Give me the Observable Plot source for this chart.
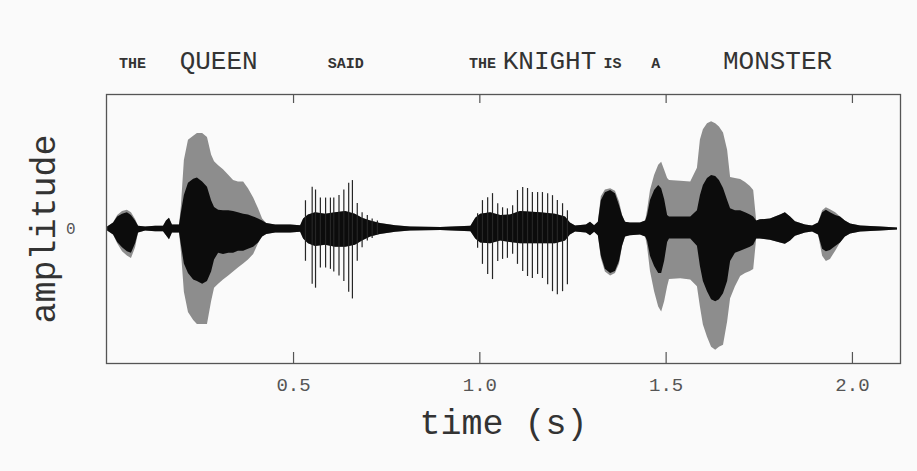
<!DOCTYPE html>
<html><head><meta charset="utf-8">
<script src="https://cdn.jsdelivr.net/npm/d3@7"></script>
<script src="https://cdn.jsdelivr.net/npm/@observablehq/plot@0.6"></script>
<style>
html,body{margin:0;padding:0;background:#fafafa;}
#chart{width:917px;height:471px;overflow:hidden}
</style></head><body><div id="chart"></div>
<script>
// Words of the sentence and their positions in time (s)
const words = ["THE","QUEEN","SAID","THE","KNIGHT","IS","A","MONSTER"];
const wordTimes = [0.068,0.299,0.640,1.007,1.187,1.356,1.472,1.799];
const wordStressed = [false,true,false,false,true,false,false,true];

const xTicks = [0.5,1.0,1.5,2.0];
const yTicks = [0];

// Envelope of the waveform (time s, amplitude relative units)
const envTime = [0.001,0.017,0.028,0.041,0.054,0.065,0.076,0.084,0.103,0.130,
 0.151,0.159,0.167,0.175,0.194,0.199,0.207,0.218,0.232,0.242,
 0.256,0.269,0.280,0.288,0.299,0.312,0.326,0.339,0.352,0.366,
 0.379,0.393,0.406,0.417,0.428,0.452,0.492,0.519,0.527,0.540,
 0.559,0.586,0.613,0.640,0.666,0.685,0.707,0.733,0.774,0.814,
 0.895,0.976,0.989,1.002,1.029,1.056,1.082,1.109,1.163,1.203,
 1.230,1.243,1.257,1.286,1.297,1.308,1.318,1.326,1.337,1.351,
 1.364,1.375,1.383,1.391,1.404,1.431,1.445,1.450,1.458,1.469,
 1.480,1.488,1.496,1.504,1.509,1.539,1.566,1.584,1.592,1.600,
 1.611,1.622,1.633,1.643,1.654,1.665,1.673,1.686,1.700,1.713,
 1.726,1.735,1.743,1.753,1.780,1.807,1.820,1.834,1.847,1.874,
 1.893,1.909,1.920,1.930,1.941,1.955,1.968,1.981,1.995,2.022,
 2.076,2.121];
// dense (black) core
const blackTop = [0.015,0.045,0.09,0.11,0.12,0.10,0.06,0.02,0.015,0.02,
 0.02,0.06,0.08,0.03,0.03,0.12,0.25,0.34,0.37,0.38,
 0.35,0.31,0.21,0.16,0.14,0.135,0.135,0.13,0.12,0.11,
 0.105,0.09,0.075,0.06,0.04,0.03,0.03,0.025,0.075,0.105,
 0.12,0.11,0.12,0.13,0.11,0.08,0.06,0.04,0.025,0.015,
 0.012,0.02,0.08,0.11,0.12,0.10,0.105,0.13,0.12,0.11,
 0.09,0.045,0.023,0.03,0.05,0.025,0.05,0.21,0.27,0.286,
 0.263,0.173,0.098,0.05,0.045,0.045,0.06,0.098,0.211,0.286,
 0.323,0.30,0.22,0.10,0.09,0.09,0.09,0.135,0.248,0.323,
 0.376,0.398,0.391,0.361,0.301,0.211,0.15,0.135,0.135,0.12,
 0.105,0.09,0.06,0.068,0.075,0.105,0.12,0.09,0.053,0.03,
 0.023,0.045,0.12,0.14,0.12,0.10,0.09,0.06,0.038,0.023,
 0.015,0.008];
const blackBot = [-0.015,-0.045,-0.10,-0.14,-0.17,-0.18,-0.11,-0.03,-0.015,-0.02,
 -0.02,-0.05,-0.08,-0.03,-0.03,-0.12,-0.26,-0.33,-0.38,-0.39,
 -0.41,-0.39,-0.32,-0.23,-0.18,-0.19,-0.18,-0.18,-0.165,-0.165,
 -0.15,-0.135,-0.105,-0.06,-0.04,-0.03,-0.03,-0.025,-0.075,-0.11,
 -0.13,-0.12,-0.135,-0.135,-0.12,-0.09,-0.06,-0.04,-0.025,-0.015,
 -0.012,-0.02,-0.075,-0.105,-0.11,-0.09,-0.10,-0.11,-0.11,-0.11,
 -0.09,-0.045,-0.023,-0.03,-0.05,-0.025,-0.05,-0.20,-0.30,-0.33,
 -0.316,-0.24,-0.128,-0.06,-0.05,-0.045,-0.06,-0.09,-0.203,-0.278,
 -0.331,-0.331,-0.24,-0.10,-0.075,-0.075,-0.075,-0.128,-0.278,-0.391,
 -0.466,-0.526,-0.541,-0.526,-0.481,-0.391,-0.241,-0.18,-0.165,-0.15,
 -0.135,-0.12,-0.075,-0.075,-0.083,-0.105,-0.113,-0.09,-0.053,-0.03,
 -0.023,-0.045,-0.15,-0.17,-0.16,-0.13,-0.105,-0.06,-0.038,-0.023,
 -0.015,-0.008];
// outer (grey) envelope
const grayTop = [0.015,0.045,0.10,0.13,0.14,0.12,0.07,0.02,0.015,0.02,
 0.02,0.06,0.08,0.03,0.03,0.17,0.51,0.66,0.69,0.71,
 0.71,0.68,0.55,0.50,0.47,0.44,0.40,0.36,0.35,0.35,
 0.30,0.23,0.15,0.075,0.04,0.03,0.03,0.025,0.075,0.105,
 0.12,0.11,0.12,0.13,0.11,0.08,0.06,0.04,0.025,0.015,
 0.012,0.02,0.08,0.11,0.12,0.10,0.105,0.13,0.12,0.11,
 0.09,0.045,0.023,0.03,0.05,0.025,0.05,0.24,0.29,0.30,
 0.28,0.20,0.10,0.05,0.045,0.045,0.06,0.135,0.286,0.398,
 0.474,0.496,0.436,0.376,0.361,0.355,0.35,0.451,0.662,0.737,
 0.782,0.797,0.782,0.759,0.714,0.586,0.383,0.376,0.368,0.346,
 0.316,0.286,0.06,0.068,0.075,0.105,0.12,0.09,0.053,0.03,
 0.023,0.045,0.135,0.158,0.143,0.12,0.09,0.06,0.038,0.023,
 0.015,0.008];
const grayBot = [-0.015,-0.045,-0.11,-0.17,-0.20,-0.22,-0.14,-0.03,-0.015,-0.02,
 -0.02,-0.05,-0.08,-0.03,-0.03,-0.17,-0.47,-0.62,-0.68,-0.71,
 -0.71,-0.71,-0.54,-0.44,-0.41,-0.38,-0.35,-0.32,-0.29,-0.26,
 -0.23,-0.19,-0.11,-0.06,-0.04,-0.03,-0.03,-0.025,-0.075,-0.11,
 -0.13,-0.12,-0.135,-0.135,-0.12,-0.09,-0.06,-0.04,-0.025,-0.015,
 -0.012,-0.02,-0.075,-0.105,-0.11,-0.09,-0.10,-0.11,-0.11,-0.11,
 -0.09,-0.045,-0.023,-0.03,-0.05,-0.025,-0.05,-0.22,-0.32,-0.35,
 -0.33,-0.26,-0.13,-0.06,-0.05,-0.045,-0.06,-0.13,-0.316,-0.466,
 -0.579,-0.617,-0.541,-0.43,-0.376,-0.37,-0.38,-0.429,-0.579,-0.714,
 -0.805,-0.88,-0.902,-0.88,-0.865,-0.692,-0.519,-0.429,-0.353,-0.331,
 -0.316,-0.301,-0.075,-0.075,-0.083,-0.105,-0.113,-0.09,-0.053,-0.03,
 -0.023,-0.045,-0.203,-0.241,-0.226,-0.165,-0.105,-0.06,-0.038,-0.023,
 -0.015,-0.008];

// Glottal pulses (spikes) in "SAID"
const saidTime = [0.532,0.550,0.559,0.572,0.586,0.599,0.608,0.622,0.635,0.648,0.658,0.671,0.684,0.698,0.711,0.725];
const saidTop = [0.21,0.31,0.29,0.23,0.23,0.23,0.23,0.25,0.29,0.34,0.36,0.19,0.12,0.10,0.075,0.06];
const saidBot = [-0.24,-0.41,-0.44,-0.29,-0.29,-0.30,-0.32,-0.35,-0.39,-0.47,-0.52,-0.24,-0.14,-0.09,-0.07,-0.04];
// Glottal pulses in "THE KNIGHT"
const knightTime = [0.994,1.007,1.021,1.034,1.048,1.061,1.074,1.088,1.101,1.115,1.128,1.141,1.155,1.168,1.182,1.195,1.208,1.222,1.235];
const knightTop = [0.113,0.211,0.233,0.263,0.188,0.158,0.150,0.173,0.286,0.308,0.301,0.271,0.271,0.271,0.263,0.248,0.211,0.188,0.135];
const knightBot = [-0.143,-0.263,-0.338,-0.376,-0.241,-0.226,-0.218,-0.188,-0.263,-0.316,-0.353,-0.368,-0.338,-0.368,-0.414,-0.466,-0.489,-0.466,-0.414];

const env = envTime.map((t, i) => ({t, gT: grayTop[i], gB: grayBot[i], bT: blackTop[i], bB: blackBot[i]}));
const spikes = [
  ...saidTime.map((t, i) => ({t, top: saidTop[i], bot: saidBot[i]})),
  ...knightTime.map((t, i) => ({t, top: knightTop[i], bot: knightBot[i]}))
];
const wordIdx = words.map((_, i) => i);

const mono = "'Liberation Mono','Courier New',monospace";
const ink = "#333";

const chart = Plot.plot({
  width: 917, height: 471,
  marginLeft: 106, marginRight: 17, marginTop: 94, marginBottom: 108,
  x: {domain: [-0.002, 2.129], axis: null, label: null},
  y: {domain: [-1, 1], axis: null, label: null},
  style: {background: "transparent", fontFamily: mono, color: ink},
  marks: [
    Plot.areaY(env, {x: "t", y1: "gB", y2: "gT", fill: "#8d8d8d"}),
    Plot.areaY(env, {x: "t", y1: "bB", y2: "bT", fill: "#0c0c0c"}),
    Plot.ruleX(spikes, {x: "t", y1: "bot", y2: "top", stroke: "#262626", strokeWidth: 1.2}),
    Plot.frame({stroke: "#555", strokeWidth: 1.3}),
    Plot.tickX(xTicks, {x: d => d, insetTop: 258, stroke: "#555", strokeWidth: 1.2}),
    Plot.tickX(xTicks, {x: d => d, insetBottom: 260, stroke: "#555", strokeWidth: 1.2}),
    Plot.axisX({ticks: xTicks, tickSize: 0, tickPadding: 14, tickFormat: d3.format(".1f"), fontSize: 19, fill: "#555", label: null}),
    Plot.axisY({ticks: yTicks, tickSize: 0, tickPadding: 31, tickFormat: d => String(d), fontSize: 16, fill: "#555", label: null}),
    Plot.text(wordIdx, {filter: i => wordStressed[i], x: i => wordTimes[i], text: i => words[i], frameAnchor: "top", lineAnchor: "middle", dy: -34, fontSize: 26, fill: ink}),
    Plot.text(wordIdx, {filter: i => !wordStressed[i], x: i => wordTimes[i], text: i => words[i], frameAnchor: "top", lineAnchor: "middle", dy: -31, fontSize: 15, fontWeight: "bold", fill: ink}),
    Plot.text(["time (s)"], {text: d => d, frameAnchor: "bottom", lineAnchor: "middle", dy: 59, fontSize: 35, fill: ink}),
    Plot.text(["amplitude"], {text: d => d, frameAnchor: "left", textAnchor: "middle", lineAnchor: "middle", dx: -63, rotate: -90, fontSize: 35, fill: ink})
  ]
});
document.getElementById("chart").append(chart);
</script>
</body></html>
